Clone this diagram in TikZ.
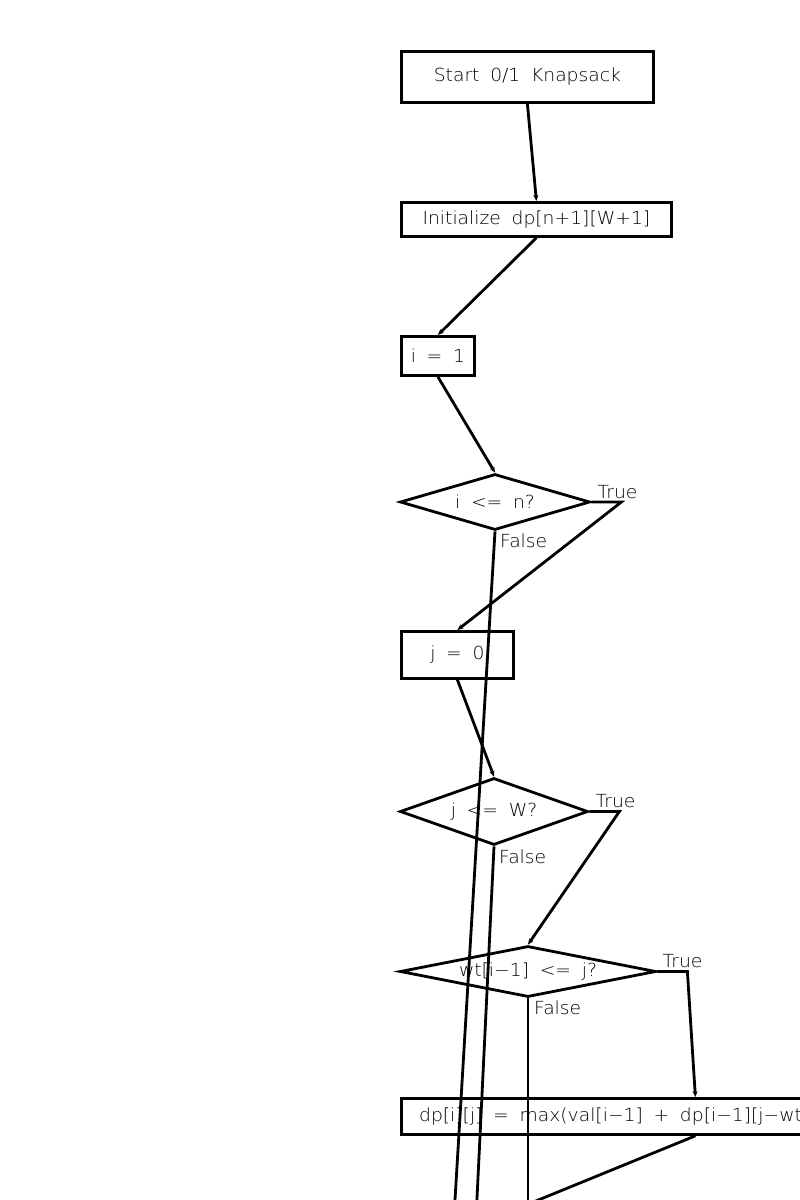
\documentclass[tikz,border=0pt]{standalone}
\usepackage{fontspec}
\setsansfont{DejaVu Sans ExtraLight}[FakeStretch=1.04,WordSpace=1.8]
\usetikzlibrary{shapes.geometric,arrows.meta}
\begin{document}
\begin{tikzpicture}[x=1pt,y=-1pt,
  every node/.style={font=\sffamily\fontsize{18}{21}\selectfont},
  flow/.style={line width=2.8pt},
  box/.style={flow,draw,rectangle,anchor=north west,inner sep=0pt},
  decision/.style={flow,draw,diamond,inner sep=0pt},
  arr/.style={flow,-{Stealth[length=6pt,width=5pt]}},
  lbl/.style={anchor=west,inner sep=0pt}]
\useasboundingbox (0,0) rectangle (800,1200);
\clip (0,0) rectangle (800,1200);

% process steps and decisions
\node[box,minimum width=252,minimum height=51] (start) at (400,50) {Start 0/1 Knapsack};
\node[box,minimum width=270,minimum height=34] (init) at (400,201) {Initialize dp[n+1][W+1]};
\node[box,minimum width=73,minimum height=39] (i1) at (400,335) {i = 1};
\node[decision,aspect=3.39,minimum width=190,minimum height=56] (c1) at (495,502) {i <= n?};
\node[box,minimum width=112,minimum height=47] (j0) at (400,630) {j = 0};
\node[decision,aspect=2.8,minimum width=188,minimum height=67] (c2) at (494,811.5) {j <= W?};
\node[decision,aspect=5.0,minimum width=256,minimum height=51] (c3) at (528,971.5) {wt[i−1] <= j?};
\node[box,minimum width=588,minimum height=36] (upd) at (400,1097) {dp[i][j] = max(val[i−1] + dp[i−1][j−wt[i−1]], dp[i−1][j])};

% ends of the connectors that leave the page
\coordinate (offA) at (452,1250);
\coordinate (offB) at (474.5,1250);
\coordinate (offC) at (528,1250);
\coordinate (offD) at (416,1250);

% connectors
\draw[arr] (start.south) -- (init.north);
\draw[arr] (init.south) -- (i1.north);
\draw[arr] (i1.south) -- (c1.north);
\draw[arr] (c1.east) -- ++(30,0) -- (j0.north);
\draw[flow] (c1.south) -- (offA);
\draw[arr] (j0.south) -- (c2.north);
\draw[arr] (c2.east) -- ++(30,0) -- (c3.north);
\draw[flow] (c2.south) -- (offB);
\draw[arr] (c3.east) -- ++(30,0) -- (upd.north);
\draw[flow] (c3.south) -- (offC);
\draw[flow] (upd.south) -- (offD);

% branch labels
\node[lbl] (t1) at ([xshift=6pt,yshift=10pt]c1.east) {True};
\node[lbl] (f1) at ([xshift=5pt,yshift=-9pt]c1.south) {False};
\node[lbl] (t2) at ([xshift=6pt,yshift=10pt]c2.east) {True};
\node[lbl] (f2) at ([xshift=5pt,yshift=-10pt]c2.south) {False};
\node[lbl] (t3) at ([xshift=5pt,yshift=10pt]c3.east) {True};
\node[lbl] (f3) at ([xshift=6pt,yshift=-9pt]c3.south) {False};
\end{tikzpicture}
\end{document}
